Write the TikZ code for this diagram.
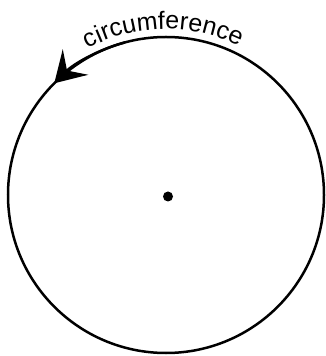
\documentclass[tikz,border=0pt]{standalone}
\usepackage{fontspec}
\setmainfont{Liberation Sans}
\usetikzlibrary{arrows.meta, decorations.text}
\tikzset{
	rim/.style={line width=2.5pt},
	rimtip/.style={-{Stealth[length=30pt, width=36pt, inset=12pt]}, line width=2.5pt},
	hub/.style={circle, fill=black, inner sep=0pt, minimum size=10pt},
}
\begin{document}
\begin{tikzpicture}[x=1pt, y=1pt]
	\useasboundingbox (0,0) rectangle (325,356);
	\coordinate (c) at (166,161);
	\node[hub] (dot) at (168,159.5) {};
	\draw[rim] (c) circle[radius=158];
	% arrowhead on the rim
	\draw[rimtip] (c) ++(105:158) arc[start angle=105, end angle=135, radius=158];
	% label along the top of the rim
	\path[decorate, decoration={text along path, text align=center,
		text={|\fontsize{25}{25}\selectfont|circumference}}]
		(c) ++(126:166) arc[start angle=126, end angle=56, radius=166];
\end{tikzpicture}
\end{document}
